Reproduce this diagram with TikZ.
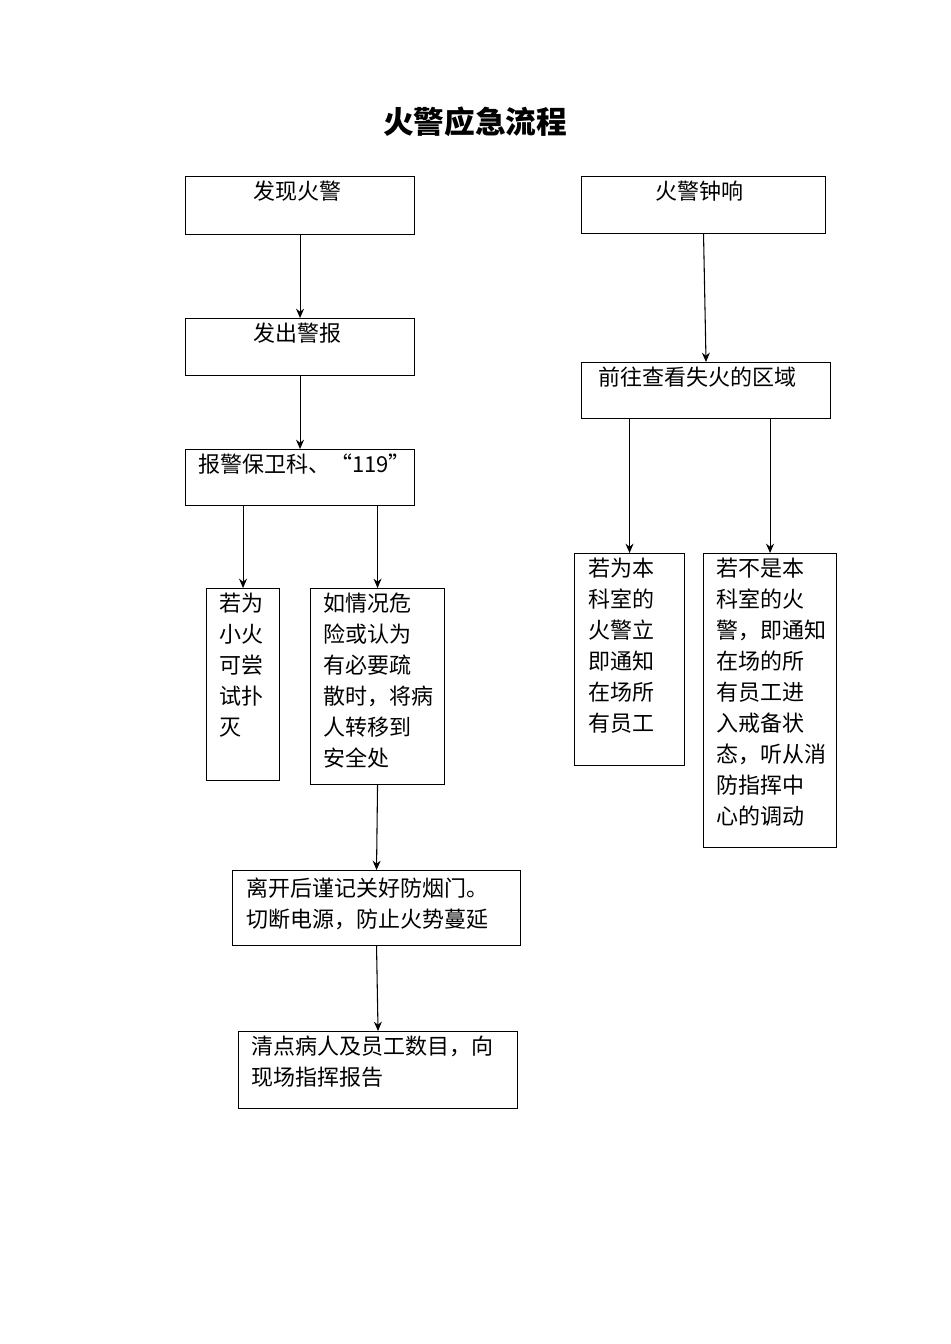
\documentclass[tikz,border=0pt]{standalone}
\usepackage{fontspec}
\setmainfont{Noto Sans CJK SC}
\usetikzlibrary{arrows.meta}
\usetikzlibrary{positioning}

\tikzset{
    box/.style 2 args={draw, thick, rectangle, anchor=north west, inner sep=0pt,
        minimum width=#1*0.75pt, minimum height=#2*0.75pt},
    txt/.style={anchor=north west, inner sep=0pt, align=left, font=\fontsize{16.5}{23.2}\selectfont},
    flow/.style={-{Stealth[length=7pt,width=6pt]}, thick}
}

\begin{document}
\begin{tikzpicture}[x=0.75pt, y=-0.75pt]

    \useasboundingbox (0,0) rectangle (950,1344);

    % Title
    \node (title) at (475,122) {\fontsize{23}{27}\selectfont\bfseries 火警应急流程};

    % Left column
    \node (find) [box={229}{58}] at (185,176) {};
    \node (findT) [txt] at (253,181) {发现火警};

    \node (alarm) [box={229}{57}] at (185,318) {};
    \node (alarmT) [txt] at (253,323) {发出警报};

    \node (call) [box={229}{56}] at (185,449) {};
    \node (callT) [txt] at (198,454) {报警保卫科、“119”};

    \node (small) [box={73}{192}] at (206,588) {};
    \node (smallT) [txt] at (219,593) {若为\\小火\\可尝\\试扑\\灭};

    \node (evac) [box={134}{196}] at (310,588) {};
    \node (evacT) [txt] at (323,593) {如情况危\\险或认为\\有必要疏\\散时，将病\\人转移到\\安全处};

    \node (door) [box={288}{75}] at (232,870) {};
    \node (doorT) [txt] at (246,878) {离开后谨记关好防烟门。\\切断电源，防止火势蔓延};

    \node (count) [box={279}{77}] at (238,1031) {};
    \node (countT) [txt] at (251,1036) {清点病人及员工数目，向\\现场指挥报告};

    % Right column
    \node (bell) [box={244}{57}] at (581,176) {};
    \node (bellT) [txt] at (655,181) {火警钟响};

    \node (check) [box={249}{56}] at (581,362) {};
    \node (checkT) [txt] at (598,367) {前往查看失火的区域};

    \node (own) [box={110}{212}] at (574,553) {};
    \node (ownT) [txt] at (588,558) {若为本\\科室的\\火警立\\即通知\\在场所\\有员工};

    \node (other) [box={133}{294}] at (703,553) {};
    \node (otherT) [txt] at (716,558) {若不是本\\科室的火\\警，即通知\\在场的所\\有员工进\\入戒备状\\态，听从消\\防指挥中\\心的调动};

    % Connectors
    \draw[flow] (find.south) -- (alarm.north);
    \draw[flow] (alarm.south) -- (call.north);
    \draw[flow] (call.south -| small.north) -- (small.north);
    \draw[flow] (call.south -| evac.north) -- (evac.north);
    \draw[flow] (evac.south) -- (door.north);
    \draw[flow] (door.south) -- (count.north);
    \draw[flow] (bell.south) -- (check.north);
    \draw[flow] (check.south -| own.north) -- (own.north);
    \draw[flow] (check.south -| other.north) -- (other.north);

\end{tikzpicture}
\end{document}
